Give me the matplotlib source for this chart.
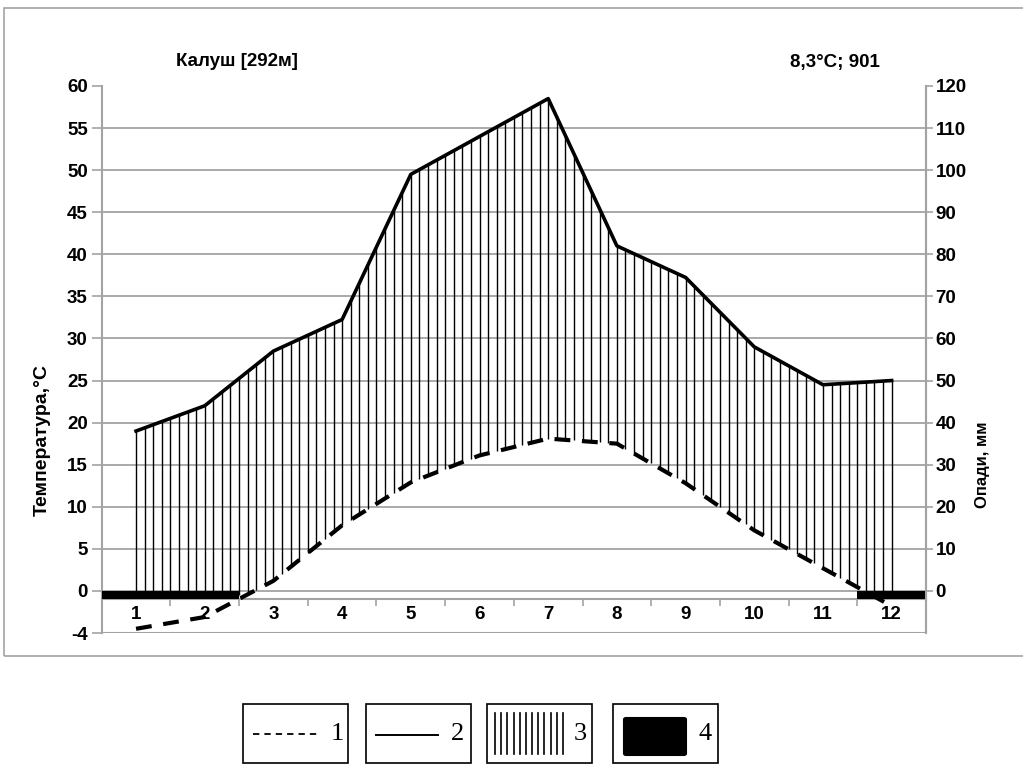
import numpy as np
import matplotlib
matplotlib.use("Agg")
import matplotlib.pyplot as plt
from matplotlib.patches import Rectangle, FancyBboxPatch
from matplotlib.lines import Line2D

# ---------------- data ----------------
months = np.arange(1, 13)
month_labels = [str(m) for m in months]
temperature = np.array([-4.5, -3.1, 1.2, 7.8, 12.9, 16.1, 18.1, 17.5, 12.8, 7.2, 2.7, -1.8])
precipitation = np.array([38, 44, 57, 64.5, 99, 108, 117, 82, 74.5, 58, 49, 50])
temp_ticks = [-5, 0, 5, 10, 15, 20, 25, 30, 35, 40, 45, 50, 55, 60]
temp_tick_labels = ["-4", "0", "5", "10", "15", "20", "25", "30", "35", "40", "45", "50", "55", "60"]
grid_levels = [0, 5, 10, 15, 20, 25, 30, 35, 40, 45, 50, 55]
precip_ticks = [0, 10, 20, 30, 40, 50, 60, 70, 80, 90, 100, 110, 120]
station_title = "Калуш [292м]"
summary_title = "8,3°C; 901"
temp_label = "Температура,°C"
precip_label = "Опади, мм"
legend_labels = ["1", "2", "3", "4"]

PRECIP_PER_DEG = 2.0  # 10 mm precipitation = 5 °C
W, H = 1023, 765
GRAY = "#a3a3a3"

plt.rcParams["font.family"] = ["Liberation Sans", "DejaVu Sans"]


def fx(x):
    return x / W


def fy(y):
    return 1 - y / H


fig = plt.figure(figsize=(W / 100, H / 100), dpi=100)

# outer frame
fig.add_artist(Rectangle((fx(4), fy(656)), fx(1040) - fx(4), fy(8) - fy(656),
                         transform=fig.transFigure, fill=False, ec=GRAY, lw=1.2))

ax = fig.add_axes([fx(101.7), fy(633), fx(926) - fx(101.7), fy(86) - fy(633)])
ax.set_xlim(0.5, 12.5)
ax.set_ylim(temp_ticks[0], temp_ticks[-1])

# grid lines
ax.hlines(grid_levels, 0.5, 12.5, color=GRAY, lw=1.3, zorder=1)
ax.axhline(temp_ticks[0], color=GRAY, lw=1.5, zorder=1)

# spines
ax.spines["top"].set_visible(False)
for s in ["left", "right", "bottom"]:
    ax.spines[s].set_color(GRAY)
    ax.spines[s].set_linewidth(1.5)
ax.spines["bottom"].set_position(("data", -0.95))

# y ticks (temperature)
ax.set_yticks(temp_ticks)
ax.set_yticklabels(temp_tick_labels)
ax.tick_params(axis="y", direction="out", length=7, width=1.2, color=GRAY,
               labelsize=13.5, pad=3)
for lbl in ax.get_yticklabels():
    lbl.set_fontweight("bold")

# x ticks (months)
ax.set_xticks(months)
ax.set_xticklabels(month_labels)
ax.set_xticks(np.arange(1.5, 12.0, 1.0), minor=True)
ax.tick_params(axis="x", which="major", length=0, labelsize=13.5, pad=5)
ax.tick_params(axis="x", which="minor", direction="out", length=5, width=1.2, color=GRAY)
for lbl in ax.get_xticklabels():
    lbl.set_fontweight("bold")

# hatching between precipitation and temperature
xs = np.arange(1.0, 12.0 + 1e-9, 0.125)
top = np.interp(xs, months, precipitation) / PRECIP_PER_DEG
bottom = np.maximum(np.interp(xs, months, temperature), -0.5)
ax.vlines(xs, bottom, top, color="black", lw=1.0, zorder=3)

# precipitation line
ax.plot(months, precipitation / PRECIP_PER_DEG, color="black", lw=2.6, zorder=4)

# frost months bar
frost = temperature < 0
ax.bar(months[frost], -0.95, bottom=-0.05, width=1.0, color="black", zorder=4)

# temperature line
ax.plot(months, temperature, color="black", lw=3.0, dashes=(3.8, 2.8),
        dash_capstyle="butt", zorder=5, clip_on=False)

# right axis (precipitation)
ax2 = ax.twinx()
ax2.set_ylim(temp_ticks[0] * PRECIP_PER_DEG, temp_ticks[-1] * PRECIP_PER_DEG)
ax2.set_yticks(precip_ticks)
ax2.set_yticklabels([str(t) for t in precip_ticks])
for s in ["left", "top", "bottom"]:
    ax2.spines[s].set_visible(False)
ax2.spines["right"].set_color(GRAY)
ax2.spines["right"].set_linewidth(1.5)
ax2.tick_params(axis="y", direction="out", length=5, width=1.2, color=GRAY,
                labelsize=13.5, pad=2)
for lbl in ax2.get_yticklabels():
    lbl.set_fontweight("bold")

# titles and axis labels
fig.text(fx(237), fy(62), station_title, ha="center", va="center", fontsize=13.5, fontweight="bold")
fig.text(fx(835), fy(62), summary_title, ha="center", va="center", fontsize=13.5, fontweight="bold")
fig.text(fx(42), fy(440), temp_label, ha="center", va="center", rotation=90,
         fontsize=14, fontweight="bold")
fig.text(fx(983), fy(465), precip_label, ha="center", va="center", rotation=90,
         fontsize=12, fontweight="bold")

# ---------------- legend ----------------
box_left = [243, 366, 487, 613]
box_w, box_top, box_bot = 105, 704, 763
for bl in box_left:
    fig.add_artist(Rectangle((fx(bl), fy(box_bot)), fx(box_w), fy(box_top) - fy(box_bot),
                             transform=fig.transFigure, fill=False, ec="black", lw=1.2))

fig.add_artist(Line2D([fx(253), fx(317)], [fy(734), fy(734)], transform=fig.transFigure,
                      color="black", lw=1.3, dashes=(3.5, 2.8)))
fig.add_artist(Line2D([fx(376), fx(438)], [fy(735), fy(735)], transform=fig.transFigure,
                      color="black", lw=1.4))
for lx in np.linspace(495, 563, 12):
    fig.add_artist(Line2D([fx(lx), fx(lx)], [fy(713), fy(754)], transform=fig.transFigure,
                          color="black", lw=1.2))
fig.add_artist(FancyBboxPatch((fx(624), fy(755)), fx(686) - fx(624), fy(718) - fy(755),
                              boxstyle="round,pad=0.0,rounding_size=0.002",
                              transform=fig.transFigure, fc="black", ec="black", lw=1.5))
label_x = [337, 457, 580, 705]
for lx, txt in zip(label_x, legend_labels):
    fig.text(fx(lx), fy(734), txt, ha="center", va="center", fontsize=19,
             family=["Liberation Serif", "DejaVu Serif"])

fig.savefig("out.png", dpi=100)
